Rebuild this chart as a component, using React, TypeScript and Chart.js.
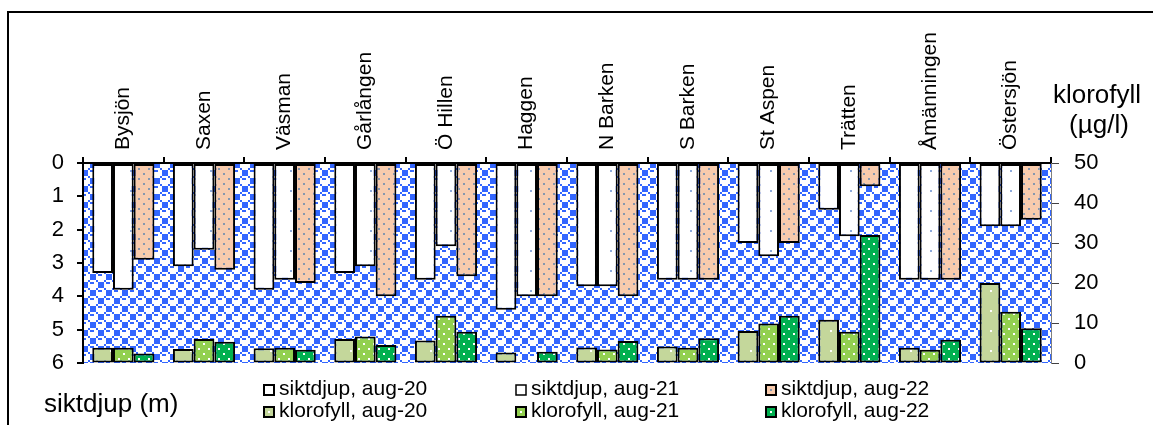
import { useEffect, useRef } from 'react';
import { Chart, registerables } from 'chart.js';

Chart.register(...registerables);

const categories = ['Bysjön', 'Saxen', 'Väsman', 'Gårlången', 'Ö Hillen', 'Haggen', 'N Barken', 'S Barken', 'St Aspen', 'Trätten', 'Åmänningen', 'Östersjön'];
const siktdjup20 = [3.3, 3.1, 3.8, 3.3, 3.5, 4.4, 3.7, 3.5, 2.4, 1.4, 3.5, 1.9];
const siktdjup21 = [3.8, 2.6, 3.5, 3.1, 2.5, 4.0, 3.7, 3.5, 2.8, 2.2, 3.5, 1.9];
const siktdjup22 = [2.9, 3.2, 3.6, 4.0, 3.4, 4.0, 4.0, 3.5, 2.4, 0.7, 3.5, 1.7];
const klorofyll20 = [3.8, 3.5, 3.7, 6.0, 5.6, 2.6, 3.9, 4.1, 8.0, 10.8, 3.8, 20.0];
const klorofyll21 = [3.8, 6.0, 3.8, 6.6, 11.8, null, 3.4, 3.8, 9.9, 7.8, 3.3, 12.8];
const klorofyll22 = [2.4, 5.3, 3.3, 4.5, 7.8, 2.8, 5.5, 6.2, 11.8, 32.0, 5.8, 8.7];
const depthTicks = [0, 1, 2, 3, 4, 5, 6];
const chlTicks = [0, 10, 20, 30, 40, 50];
const seriesLabels = ['siktdjup, aug-20', 'siktdjup, aug-21', 'siktdjup, aug-22', 'klorofyll, aug-20', 'klorofyll, aug-21', 'klorofyll, aug-22'];
const leftTitle = 'siktdjup (m)';
const rightTitle = ['klorofyll', '(µg/l)'];

const FONT = '"Liberation Sans", Arial, Helvetica, sans-serif';
const BLUE = '#3366ff';

function makeCanvas(w: number, h: number) {
  const c = document.createElement('canvas');
  c.width = w;
  c.height = h;
  return c;
}

function spherePattern(ctx: CanvasRenderingContext2D) {
  const rows = [0x77, 0x98, 0xf8, 0xf8, 0x77, 0x89, 0x8f, 0x8f];
  const S = 2;
  const tile = makeCanvas(8 * S, 8 * S);
  const g = tile.getContext('2d')!;
  g.fillStyle = '#ffffff';
  g.fillRect(0, 0, 8 * S, 8 * S);
  g.fillStyle = BLUE;
  rows.forEach((r, y) => {
    for (let x = 0; x < 8; x++) {
      if (!((r >> (7 - x)) & 1)) g.fillRect(x * S, y * S, S, S);
    }
  });
  return ctx.createPattern(tile, 'repeat')!;
}

function dotPattern(ctx: CanvasRenderingContext2D, base: string, dot: string, period: number, stagger: boolean, size = 2) {
  const t = makeCanvas(period, period);
  const g = t.getContext('2d')!;
  g.fillStyle = base;
  g.fillRect(0, 0, period, period);
  g.fillStyle = dot;
  const q = Math.round(period / 4);
  if (stagger) {
    g.fillRect(q, q, size, size);
    g.fillRect(q + period / 2, q + period / 2, size, size);
  } else {
    g.fillRect(Math.round(period / 2), Math.round(period / 2), size, size);
  }
  return ctx.createPattern(t, 'repeat')!;
}

export default function App() {
  const ref = useRef<HTMLCanvasElement>(null);

  useEffect(() => {
    const canvas = ref.current!;
    const ctx = canvas.getContext('2d')!;
    const bgPat = spherePattern(ctx);
    const fills = [
      '#ffffff',
      dotPattern(ctx, '#ffffff', '#8eaadb', 20, false),
      dotPattern(ctx, '#f8cbad', '#8497b0', 10, true),
      dotPattern(ctx, '#c4d79b', '#ffffff', 20, false),
      dotPattern(ctx, '#92d050', '#ffffff', 10, true),
      dotPattern(ctx, '#00b050', '#ffffff', 10, true),
    ];
    const legendBase = ['#ffffff', '#ffffff', '#f8cbad', '#c4d79b', '#92d050', '#00b050'];
    const legendDot = [null, null, '#8497b0', '#ffffff', '#ffffff', '#ffffff'];

    const common = { borderColor: '#000000', borderWidth: 2, borderSkipped: false as const };

    const decor = {
      id: 'decor',
      beforeDraw(chart: any) {
        const c = chart.ctx as CanvasRenderingContext2D;
        const { left, top, right, bottom } = chart.chartArea;
        c.save();
        c.fillStyle = '#ffffff';
        c.fillRect(0, 0, chart.width, chart.height);
        c.fillStyle = bgPat;
        c.fillRect(left, top, right - left, bottom - top);
        c.fillStyle = '#000000';
        c.fillRect(8, 11, chart.width, 2);
        c.fillRect(7, 11, 2, chart.height);
        c.restore();
      },
      afterDraw(chart: any) {
        const c = chart.ctx as CanvasRenderingContext2D;
        c.save();
        c.fillStyle = '#000000';
        c.textBaseline = 'alphabetic';
        c.font = `26px ${FONT}`;
        c.textAlign = 'left';
        c.fillText(leftTitle, 44, 412);
        c.textAlign = 'center';
        c.fillText(rightTitle[0], 1097, 103);
        c.fillText(rightTitle[1], 1099, 133);
        // legend
        const colX = [263, 515, 765];
        const rowY = [395, 417];
        c.font = `21px ${FONT}`;
        c.textAlign = 'left';
        seriesLabels.forEach((lab, i) => {
          const col = i % 3;
          const row = Math.floor(i / 3);
          const x = colX[col];
          const y = rowY[row];
          c.fillStyle = legendBase[i];
          c.fillRect(x, y - 11, 12, 12);
          const d = legendDot[i];
          if (d) {
            c.fillStyle = d;
            c.fillRect(x + 5, y - 6, 2, 2);
          }
          c.strokeStyle = '#000000';
          c.lineWidth = i === 1 ? 1.5 : 2;
          c.strokeRect(x + 1, y - 10, 10, 10);
          c.fillStyle = '#000000';
          c.fillText(lab, x + 16, y);
        });
        c.restore();
      },
    };

    const chart = new Chart(ctx, {
      type: 'bar',
      data: {
        labels: categories,
        datasets: [
          { label: seriesLabels[0], data: siktdjup20, yAxisID: 'y', stack: 'a', backgroundColor: fills[0], ...common },
          { label: seriesLabels[1], data: siktdjup21, yAxisID: 'y', stack: 'b', backgroundColor: fills[1], ...common },
          { label: seriesLabels[2], data: siktdjup22, yAxisID: 'y', stack: 'c', backgroundColor: fills[2], ...common },
          { label: seriesLabels[3], data: klorofyll20, yAxisID: 'y2', stack: 'a', backgroundColor: fills[3], ...common },
          { label: seriesLabels[4], data: klorofyll21, yAxisID: 'y2', stack: 'b', backgroundColor: fills[4], ...common },
          { label: seriesLabels[5], data: klorofyll22, yAxisID: 'y2', stack: 'c', backgroundColor: fills[5], ...common },
        ] as any,
      },
      options: {
        responsive: false,
        animation: false,
        devicePixelRatio: 1,
        layout: { padding: { left: 0, right: 0, top: 0, bottom: 62 } },
        plugins: { legend: { display: false }, tooltip: { enabled: false } },
        datasets: { bar: { categoryPercentage: 0.77, barPercentage: 1 } },
        scales: {
          x: {
            position: 'top',
            offset: true,
            grid: { offset: true, drawOnChartArea: false, drawTicks: true, tickLength: 6, lineWidth: 2, color: '#000000' },
            border: { display: true, color: '#000000', width: 2 },
            ticks: {
              autoSkip: false,
              minRotation: 90,
              maxRotation: 90,
              padding: 7,
              labelOffset: 25,
              color: '#000000',
              font: { family: FONT, size: 21 },
            },
            afterFit: (s: any) => { s.height = 163; },
          },
          y: {
            position: 'left',
            reverse: true,
            min: 0,
            max: 6,
            stacked: false,
            grid: { drawOnChartArea: false, drawTicks: true, tickLength: 6, lineWidth: 2, color: '#000000' },
            border: { display: true, color: '#000000', width: 2 },
            ticks: { padding: 13, color: '#000000', font: { family: FONT, size: 22 } },
            afterBuildTicks: (s: any) => { s.ticks = depthTicks.map((v) => ({ value: v })); },
            afterFit: (s: any) => { s.width = 83; },
          },
          y2: {
            position: 'right',
            min: 0,
            max: 50,
            stacked: false,
            grid: { drawOnChartArea: false, drawTicks: true, tickLength: 8, lineWidth: 1, color: '#404040' },
            border: { display: true, color: '#808080', width: 1 },
            ticks: { padding: 15, color: '#000000', font: { family: FONT, size: 22 } },
            afterBuildTicks: (s: any) => { s.ticks = chlTicks.map((v) => ({ value: v })); },
            afterFit: (s: any) => { s.width = 102; },
          },
        },
      } as any,
      plugins: [decor],
    });
    return () => chart.destroy();
  }, []);

  return (
    <div style={{ position: 'absolute', left: 0, top: 0, width: 1153, height: 425, background: '#fff' }}>
      <canvas ref={ref} width={1153} height={425} style={{ display: 'block', width: 1153, height: 425 }} />
    </div>
  );
}
